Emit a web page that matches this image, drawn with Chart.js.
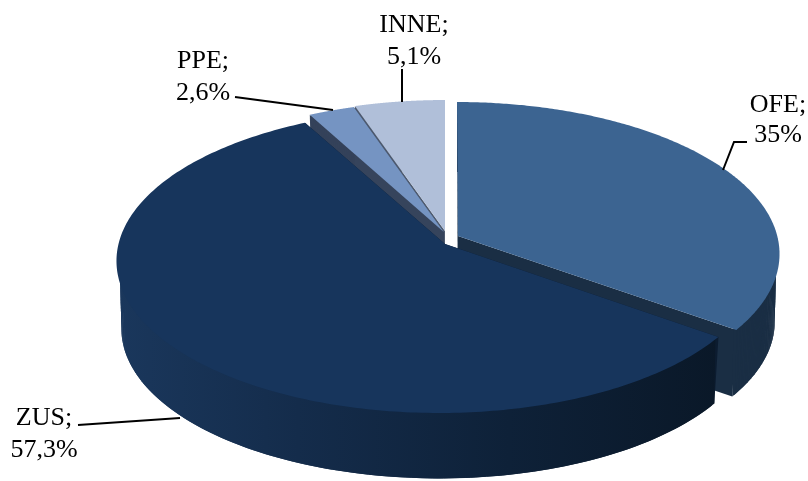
<!DOCTYPE html>
<html><head><meta charset="utf-8">
<style>html,body{margin:0;padding:0;background:#fff}canvas{display:block}</style>
<script src="https://cdn.jsdelivr.net/npm/chart.js@4"></script>
</head><body><canvas id="c" width="808" height="481"></canvas>
<script>
const categories = ['OFE', 'ZUS', 'PPE', 'INNE'];
const values = [35, 57.3, 2.6, 5.1];
const valueLabels = ['35%', '57,3%', '2,6%', '5,1%'];
const topColors = ['#3c6491', '#17355c', '#7594c2', '#b0bfd9'];
const faceColors = ['#1a2e44', '#0c1c30', '#36445c', '#4e5a6e'];

// 3D view settings
const view = {R: 320, H: 149.6, k: 0.125, depth: 68, shrinkX: 0.985, shrinkY: 0.985};
const apex = [[458, 236], [445, 244], [443.8, 232], [445, 231]];
const rimShift = [[-1, -1], [-6, -2], [0, 2], [0, 2]];
const labelPos = [[778, 112, 142], [44, 425, 457], [203, 68, 100], [414, 32, 64]];
const leaders = [
  [[723, 170], [734, 142], [747, 142]],
  [[78, 425], [180, 418]],
  [[235, 97], [333, 110]],
  [[402, 69], [402, 102]]
];

function proj(i, a, r, down) {
  const u = Math.cos(a) * r, v = Math.sin(a) * r;
  const w = 1 - view.k * v;
  let x = view.R * u / w + rimShift[i][0] * r, y = view.H * v / w + rimShift[i][1] * r;
  if (down) { x *= view.shrinkX; y = y * view.shrinkY + view.depth; }
  return [apex[i][0] + x, apex[i][1] + y];
}
function poly(ctx, pts, fill) {
  ctx.beginPath();
  pts.forEach((p, n) => n ? ctx.lineTo(p[0], p[1]) : ctx.moveTo(p[0], p[1]));
  ctx.closePath();
  ctx.fillStyle = fill;
  ctx.fill();
}
function rimPts(i, a0, a1, down, r) {
  const n = 240, out = [];
  for (let s = 0; s <= n; s++) out.push(proj(i, a0 + (a1 - a0) * s / n, r, down));
  return out;
}
function drawSides(ctx, el, i, fill) {
  const a0 = el.startAngle, a1 = el.endAngle;
  [a0, a1].forEach(a => {
    poly(ctx, [proj(i, a, 0, false), proj(i, a, 1, false), proj(i, a, 1, true), proj(i, a, 0, true)], faceColors[i]);
  });
  const up = rimPts(i, a0, a1, false, 0.99), lo = rimPts(i, a0, a1, true, 1);
  for (let s = 0; s + 2 < up.length; s++) {
    poly(ctx, [up[s], up[s + 2], lo[s + 2], lo[s]], fill);
  }
}
function drawTop(ctx, el, i) {
  poly(ctx, [proj(i, 0, 0, false)].concat(rimPts(i, el.startAngle, el.endAngle, false, 1)), el.options.backgroundColor);
}

const pie3d = {
  id: 'pie3d',
  beforeDatasetsDraw(chart) {
    const ctx = chart.ctx, arcs = chart.getDatasetMeta(0).data;
    ctx.save();
    const g = ctx.createLinearGradient(117, 0, 720, 0);
    g.addColorStop(0, '#1a375c');
    g.addColorStop(0.3, '#142c4b');
    g.addColorStop(0.65, '#0e2138');
    g.addColorStop(1, '#0a1828');
    [3, 2, 0].forEach(i => drawSides(ctx, arcs[i], i, faceColors[i]));
    [3, 2, 0].forEach(i => drawTop(ctx, arcs[i], i));
    drawSides(ctx, arcs[1], 1, g);
    drawTop(ctx, arcs[1], 1);
    ctx.restore();
    return false;
  },
  afterDraw(chart) {
    const ctx = chart.ctx;
    ctx.save();
    ctx.strokeStyle = '#000';
    ctx.lineWidth = 2;
    leaders.forEach(l => {
      ctx.beginPath();
      l.forEach((p, n) => n ? ctx.lineTo(p[0], p[1]) : ctx.moveTo(p[0], p[1]));
      ctx.stroke();
    });
    ctx.fillStyle = '#000';
    ctx.font = '26px "Liberation Serif"';
    ctx.textAlign = 'center';
    ctx.textBaseline = 'alphabetic';
    categories.forEach((c, i) => {
      ctx.fillText(c + ';', labelPos[i][0], labelPos[i][1]);
      ctx.fillText(valueLabels[i], labelPos[i][0], labelPos[i][2]);
    });
    ctx.restore();
  }
};

new Chart(document.getElementById('c'), {
  type: 'pie',
  data: {labels: categories, datasets: [{data: values, backgroundColor: topColors, borderWidth: 0}]},
  options: {
    responsive: false,
    animation: false,
    plugins: {legend: {display: false}, tooltip: {enabled: false}}
  },
  plugins: [pie3d]
});
</script></body></html>
